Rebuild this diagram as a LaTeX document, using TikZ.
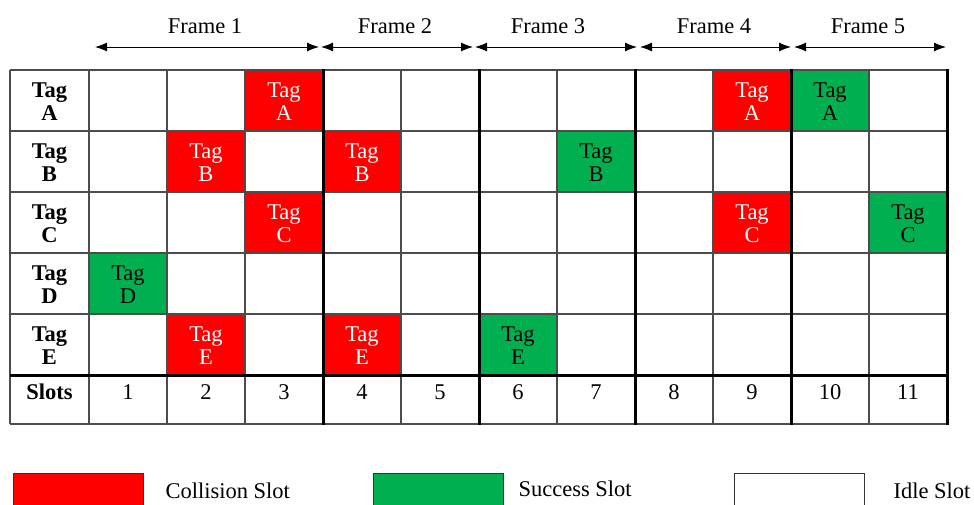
\documentclass[tikz,border=0pt]{standalone}
\usepackage{fontspec}
\setmainfont{Liberation Serif}
\usepackage{xcolor}
\usetikzlibrary{arrows.meta,calc,positioning}
\definecolor{collred}{RGB}{255,0,0}
\definecolor{succgreen}{RGB}{0,176,80}

\begin{document}
\begin{tikzpicture}[
    x=1pt,y=-1pt,
    every node/.style={font=\fontsize{22.5}{23.5}\selectfont,align=center},
    cell/.style={
        minimum width=78pt,
        minimum height=61pt,
        inner sep=0pt,
        outer sep=0pt
    },
    collision/.style={cell,fill=collred,text=white},
    success/.style={cell,fill=succgreen,text=black},
    header/.style={font=\fontsize{22.5}{23.5}\selectfont\bfseries},
    thingrid/.style={draw=black!70,line width=1.1pt},
    frameline/.style={draw=black,line width=3pt},
    span/.style={{Latex[length=12pt,width=9pt]}-{Latex[length=12pt,width=9pt]},line width=1pt},
    legend/.style={draw=black!80,line width=1pt,minimum width=130pt,minimum height=40pt,inner sep=0pt}
]
\useasboundingbox (0,0) rectangle (974,504);

% Coloured slots
\foreach \col/\row/\tg in {3/1/A,9/1/A,2/2/B,4/2/B,3/3/C,9/3/C,2/5/E,4/5/E}
    \node[collision] (coll\col\tg) at ({50+78*\col},{40.5+61*\row}) {Tag\\\tg};
\foreach \col/\row/\tg in {10/1/A,7/2/B,11/3/C,1/4/D,6/5/E}
    \node[success] (succ\col\tg) at ({50+78*\col},{40.5+61*\row}) {Tag\\\tg};

% Row and column headings
\foreach \tg [count=\row] in {A,B,C,D,E}
    \node[cell,header,minimum width=79pt] (tag\tg) at (49.5,{40.5+61*\row}) {Tag\\\tg};
\node[header] (slots) at (49.5,392) {Slots};
\foreach \col in {1,...,11}
    \node (slot\col) at ({50+78*\col},392) {\col};

% Table lines
\foreach \y in {70,131,192,253,314,424}
    \draw[thingrid] (10,\y) -- (947,\y);
\foreach \x in {10,89,167,245,401,557,713,869}
    \draw[thingrid] (\x,70) -- (\x,424);
\foreach \x in {323,479,635,791,947}
    \draw[frameline] (\x,69) -- (\x,425);
\draw[frameline] (10,375) -- (948,375);

% Frames
\foreach \n/\a/\b/\lx in {1/95/319/205,2/321/473/395,3/475/637/548,4/640/791/714,5/794/946/868} {
    \coordinate (start\n) at (\a,47);
    \coordinate (end\n) at (\b,47);
    \draw[span] (start\n) -- (end\n);
    \node (frame\n) at (\lx,26) {Frame \n};
}

% Legend
\node[legend,fill=collred,anchor=north west] (collkey) at (13,473) {};
\node[anchor=west] (colltext) at (162,491) {Collision Slot};
\node[legend,fill=succgreen,anchor=north west] (succkey) at (373,473) {};
\node[anchor=west] (succtext) at (515,489) {Success Slot};
\node[legend,fill=white,anchor=north west] (idlekey) at (734,473) {};
\node[anchor=west] (idletext) at (890,491) {Idle Slot};

\end{tikzpicture}
\end{document}
